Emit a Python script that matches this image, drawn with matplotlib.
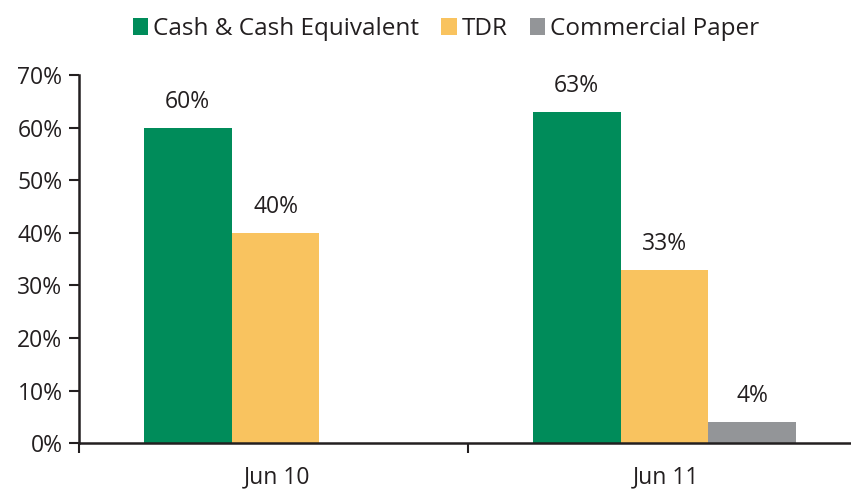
import matplotlib.pyplot as plt
import numpy as np

categories = ["Jun 10", "Jun 11"]
series = ["Cash & Cash Equivalent", "TDR", "Commercial Paper"]
cash = [60, 63]
tdr = [40, 33]
paper = [0, 4]
colors = ["#008C5A", "#F9C35F", "#939598"]
ink = "#231F20"

plt.rcParams['font.family'] = ['Open Sans', 'DejaVu Sans']

fig = plt.figure(figsize=(8.51, 4.94), dpi=100)
ax = fig.add_axes([0.093, 0.103, 0.914, 0.745])

x = np.arange(len(categories))
w = 0.226
for i, (vals, name) in enumerate(zip([cash, tdr, paper], series)):
    bars = ax.bar(x + (i - 1) * w + 0.005, vals, w, color=colors[i], label=name)
    for b, v in zip(bars, vals):
        if v > 0:
            ax.annotate(f"{v}%", (b.get_x() + b.get_width() / 2, v),
                        xytext=(0, 10), textcoords="offset points",
                        ha="center", va="bottom", fontsize=16.5, color=ink)

ax.set_xlim(-0.5, 1.5)
ax.set_ylim(0, 70)
ax.set_yticks(range(0, 71, 10))
ax.set_yticklabels([f"{t}%" for t in range(0, 71, 10)], fontsize=16.5, color=ink)
ax.set_xticks([-0.5, 0.5, 1.5])
ax.set_xticklabels([])
ax.set_xticks(x + 0.01, minor=True)
ax.set_xticklabels(categories, minor=True, fontsize=16.5, color=ink)
ax.tick_params(axis="x", which="minor", length=0, pad=16)
ax.tick_params(axis="x", which="major", length=7, width=1.5, color=ink, direction="out")
ax.tick_params(axis="y", length=7, width=1.5, color=ink, direction="out", pad=5)
for s in ["top", "right"]:
    ax.spines[s].set_visible(False)
for s in ["left", "bottom"]:
    ax.spines[s].set_linewidth(1.8)
    ax.spines[s].set_color(ink)

fig.legend(loc="upper center", bbox_to_anchor=(0.524, 1.01), ncol=3, frameon=False,
           fontsize=17.5, handlelength=0.65, handleheight=0.75, handletextpad=0.2,
           columnspacing=0.9, labelcolor=ink)

fig.savefig("out.png", dpi=100)
